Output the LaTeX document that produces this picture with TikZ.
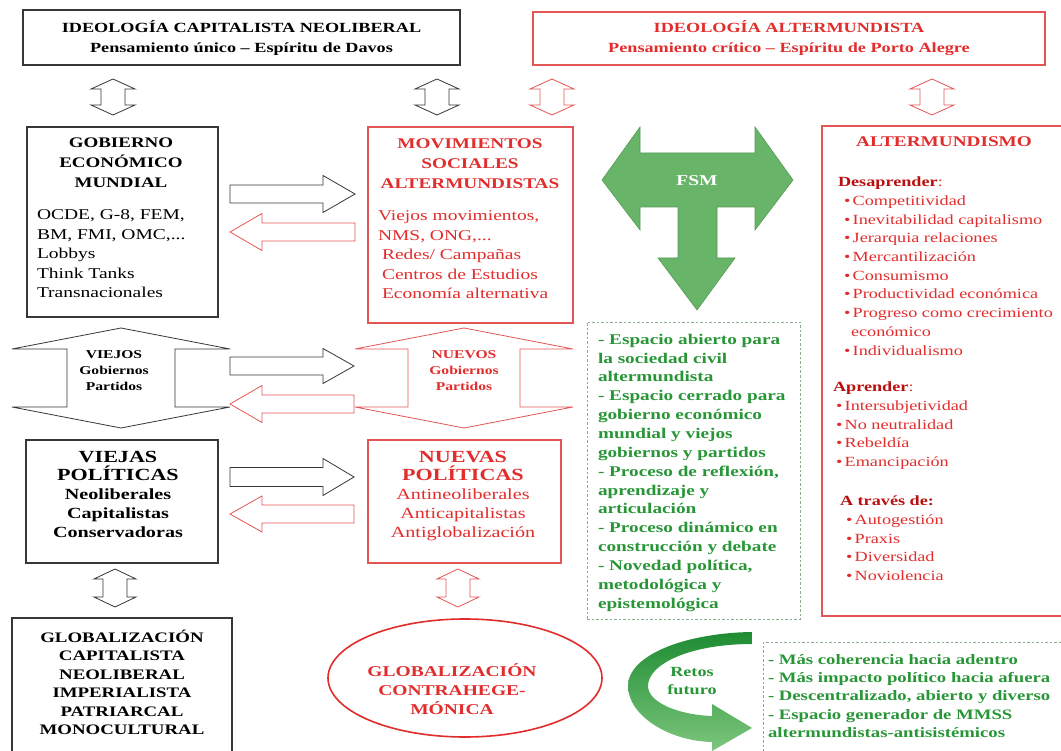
\documentclass[tikz,border=0pt]{standalone}
\usepackage{fontspec}
\setmainfont{Liberation Serif}[FakeStretch=1.3]
\usetikzlibrary{shapes.geometric}
\definecolor{myred}{RGB}{226,45,45}
\definecolor{dkred}{RGB}{185,15,15}
\definecolor{boxred}{RGB}{228,85,85}
\definecolor{mygrey}{RGB}{55,55,55}
\definecolor{txtgreen}{RGB}{40,150,55}
\definecolor{fsmgreen}{RGB}{104,180,104}
\definecolor{fsmedge}{RGB}{85,155,85}
\definecolor{dashgreen}{RGB}{140,170,140}
\definecolor{arrdark}{RGB}{30,140,50}
\definecolor{arrlight}{RGB}{125,198,125}
\newcommand\myfs[2]{\fontsize{#1}{#2}\selectfont}
% horizontal block arrow: style, x tail, x tip, x head base, y centre, shaft half, head half
\newcommand\blkH[7]{\draw[#1] (#2,{#5-#6}) -- (#4,{#5-#6}) -- (#4,{#5-#7}) -- (#3,#5) -- (#4,{#5+#7}) -- (#4,{#5+#6}) -- (#2,{#5+#6}) -- cycle;}
% vertical double block arrow: style, x centre, y top, y bottom, shaft half, head half, head length
\newcommand\blkV[7]{\draw[#1] (#2,#3) -- ({#2+#6},{#3+#7}) -- ({#2+#5},{#3+#7}) -- ({#2+#5},{#4-#7}) -- ({#2+#6},{#4-#7}) -- (#2,#4) -- ({#2-#6},{#4-#7}) -- ({#2-#5},{#4-#7}) -- ({#2-#5},{#3+#7}) -- ({#2-#6},{#3+#7}) -- cycle;}
\tikzset{
  blackbox/.style={draw=mygrey, line width=1.4pt},
  redbox/.style={draw=boxred, line width=1.1pt},
  greenbox/.style={draw=dashgreen, line width=0.9pt, dash pattern=on 2.5pt off 2pt},
  blackarr/.style={draw=mygrey, line width=0.8pt, fill=white},
  redarr/.style={draw=boxred, line width=0.8pt, fill=white},
  txt/.style={inner sep=0pt, outer sep=0pt},
  hdblack/.style={txt, align=center, font=\myfs{14.6}{20}\bfseries},
  hdred/.style={txt, align=center, text=myred, font=\myfs{14.8}{20}\bfseries},
  lst/.style={txt, align=left, font=\myfs{15}{19.4}},
  altl/.style={txt, align=left, text=myred, font=\myfs{14}{18.7}},
  grl/.style={txt, align=left, text=txtgreen, font=\myfs{14.8}{18.85}\bfseries},
}
\begin{document}
\begin{tikzpicture}[x=1pt, y=-1pt]
\useasboundingbox (0,0) rectangle (1061,751);
\fill[white] (0,0) rectangle (1061,751);

% ---- top ideology boxes
\node[blackbox, minimum width=437pt, minimum height=55pt, align=center, font=\myfs{14}{20}\bfseries] (ideo) at (241.5,37.5)
  {IDEOLOGÍA CAPITALISTA NEOLIBERAL\\Pensamiento único – Espíritu de Davos};
\node[redbox, minimum width=512pt, minimum height=53pt, align=center, text=myred, font=\myfs{14}{20}\bfseries] (alter) at (789,38.5)
  {IDEOLOGÍA ALTERMUNDISTA\\Pensamiento crítico – Espíritu de Porto Alegre};

% ---- small double arrows under ideology boxes
\blkV{blackarr}{113}{79}{115}{12}{22}{10}
\blkV{blackarr}{437}{79}{115}{12}{22}{10}
\blkV{redarr}{552}{79}{115}{12}{22}{10}
\blkV{redarr}{932}{79}{115}{12}{22}{10}

% ---- Gobierno economico mundial
\node[blackbox, minimum width=191pt, minimum height=190pt] (gob) at (122.5,222) {};
\node[hdblack, anchor=north] (gobh) at (121,138) {GOBIERNO\\ECONÓMICO\\MUNDIAL};
\node[lst, anchor=north west] (gobl) at (37,210) {OCDE, G-8, FEM,\\BM, FMI, OMC,...\\Lobbys\\Think Tanks\\Transnacionales};

% ---- Movimientos sociales
\node[redbox, minimum width=205pt, minimum height=196pt] (mov) at (470.5,225) {};
\node[hdred, anchor=north] (movh) at (470,139) {MOVIMIENTOS\\SOCIALES\\ALTERMUNDISTAS};
\node[lst, text=myred, anchor=north west] (movl) at (378,211) {Viejos movimientos,\\NMS, ONG,...\\\hspace*{4pt}Redes/ Campañas\\\hspace*{4pt}Centros de Estudios\\\hspace*{4pt}Economía alternativa};

\blkH{blackarr}{230}{355}{323}{194}{9}{18.5}
\blkH{redarr}{355}{230}{262}{232}{9}{18.5}

% ---- FSM arrow
\draw[fill=fsmgreen, draw=fsmedge, line width=0.6pt] (602,180) -- (640,127) -- (640,153) -- (755,153) -- (755,127) -- (793,180) -- (755,230) -- (755,207) -- (717,207) -- (717,258) -- (735,258) -- (697,310) -- (658,258) -- (678,258) -- (678,207) -- (640,207) -- (640,230) -- cycle;
\node[txt, text=white, font=\myfs{15}{18}\bfseries] (fsm) at (697,181) {FSM};

% ---- Altermundismo
\node[redbox, minimum width=250pt, minimum height=490pt] (altbox) at (947,371) {};
\node[hdred, anchor=north] (alth) at (944,137) {ALTERMUNDISMO};
\node[altl, anchor=north west] (des) at (838,177) {{\bfseries\color{dkred}Desaprender}:\\
\hspace*{6pt}\textbullet\,Competitividad\\
\hspace*{6pt}\textbullet\,Inevitabilidad capitalismo\\
\hspace*{6pt}\textbullet\,Jerarquia relaciones\\
\hspace*{6pt}\textbullet\,Mercantilización\\
\hspace*{6pt}\textbullet\,Consumismo\\
\hspace*{6pt}\textbullet\,Productividad económica\\
\hspace*{6pt}\textbullet\,Progreso como crecimiento\\
\hspace*{13pt}económico\\
\hspace*{6pt}\textbullet\,Individualismo};
\node[altl, anchor=north west] (apr) at (833,382) {{\bfseries\color{dkred}Aprender}:\\
\hspace*{3pt}\textbullet\,Intersubjetividad\\
\hspace*{3pt}\textbullet\,No neutralidad\\
\hspace*{3pt}\textbullet\,Rebeldía\\
\hspace*{3pt}\textbullet\,Emancipación};
\node[altl, anchor=north west] (atr) at (840,496) {{\bfseries\color{dkred}A través de:}\\
\hspace*{6pt}\textbullet\,Autogestión\\
\hspace*{6pt}\textbullet\,Praxis\\
\hspace*{6pt}\textbullet\,Diversidad\\
\hspace*{6pt}\textbullet\,Noviolencia};

% ---- Viejos / Nuevos gobiernos partidos
\blkV{blackarr}{121}{328}{428}{54}{109}{21}
\node[txt, align=center, font=\myfs{12}{16}\bfseries] (viejos) at (114,371) {VIEJOS\\Gobiernos\\Partidos};
\blkV{redarr}{464}{328}{428}{56}{109}{21}
\node[txt, align=center, text=myred, font=\myfs{12}{16}\bfseries] (nuevos) at (464,371) {NUEVOS\\Gobiernos\\Partidos};
\blkH{blackarr}{230}{354}{323}{366}{9}{17.5}
\blkH{redarr}{354}{230}{262}{404}{9}{18.5}

% ---- FSM description box
\node[greenbox, minimum width=213pt, minimum height=297pt] (fsmbox) at (693.5,470.5) {};
\node[grl, anchor=north west] (fsml) at (598,334) {- Espacio abierto para\\la sociedad civil\\altermundista\\- Espacio cerrado para\\gobierno económico\\mundial y viejos\\gobiernos y partidos\\- Proceso de reflexión,\\aprendizaje y\\articulación\\- Proceso dinámico en\\construcción y debate\\- Novedad política,\\metodológica y\\epistemológica};

% ---- Viejas / Nuevas politicas
\node[blackbox, minimum width=192pt, minimum height=123pt] (vpol) at (122,501.5) {};
\node[txt, align=center, anchor=north, font=\myfs{15.5}{18.7}\bfseries] (vpolt) at (118,451) {{\fontsize{17}{18.7}\selectfont VIEJAS}\\{\fontsize{17}{18.7}\selectfont POLÍTICAS}\\Neoliberales\\Capitalistas\\Conservadoras};
\node[redbox, minimum width=193pt, minimum height=123pt] (npol) at (464.5,501.5) {};
\node[txt, align=center, anchor=north, text=myred, font=\myfs{15.5}{18.7}] (npolt) at (463,451) {{\bfseries\fontsize{17}{18.7}\selectfont NUEVAS}\\{\bfseries\fontsize{17}{18.7}\selectfont POLÍTICAS}\\Antineoliberales\\Anticapitalistas\\Antiglobalización};
\blkH{blackarr}{230}{354}{323}{477}{9.5}{18.5}
\blkH{redarr}{354}{230}{262}{514}{9}{18}

\blkV{blackarr}{115}{569}{607}{12}{21}{10}
\blkV{redarr}{458}{569}{607}{12}{21}{10}

% ---- bottom
\draw[blackbox] (12,760) -- (12,618) -- (232,618) -- (232,760);
\node[txt, align=center, anchor=north, font=\myfs{14.5}{18.4}\bfseries] (globc) at (122,630) {GLOBALIZACIÓN\\CAPITALISTA\\NEOLIBERAL\\IMPERIALISTA\\PATRIARCAL\\MONOCULTURAL};
\node[ellipse, draw=myred, line width=1.6pt, minimum width=274pt, minimum height=118pt] (glob) at (465,678) {};
\node[txt, align=center, text=myred, font=\myfs{15}{19}\bfseries] (globt) at (452,689) {GLOBALIZACIÓN\\CONTRAHEGE-\\MÓNICA};

\shade[top color=arrdark, bottom color=arrlight] (752,632) .. controls (685,633) and (628,655) .. (628,686) .. controls (628,715) and (668,741) .. (712,742) -- (712,751) -- (752,728) -- (712,704) -- (712,716) .. controls (680,715) and (648,703) .. (648,686) .. controls (648,664) and (690,644) .. (752,644) -- cycle;
\node[txt, align=center, text=txtgreen, font=\myfs{14}{18}\bfseries] (retos) at (692,681) {Retos\\futuro};

\draw[greenbox] (1070,642) -- (763,642) -- (763,760);
\node[grl, anchor=north west, font=\myfs{14.4}{18.4}\bfseries] (retl) at (768,654) {- Más coherencia hacia adentro\\- Más impacto político hacia afuera\\- Descentralizado, abierto y diverso\\- Espacio generador de MMSS\\altermundistas-antisistémicos};
\end{tikzpicture}
\end{document}
